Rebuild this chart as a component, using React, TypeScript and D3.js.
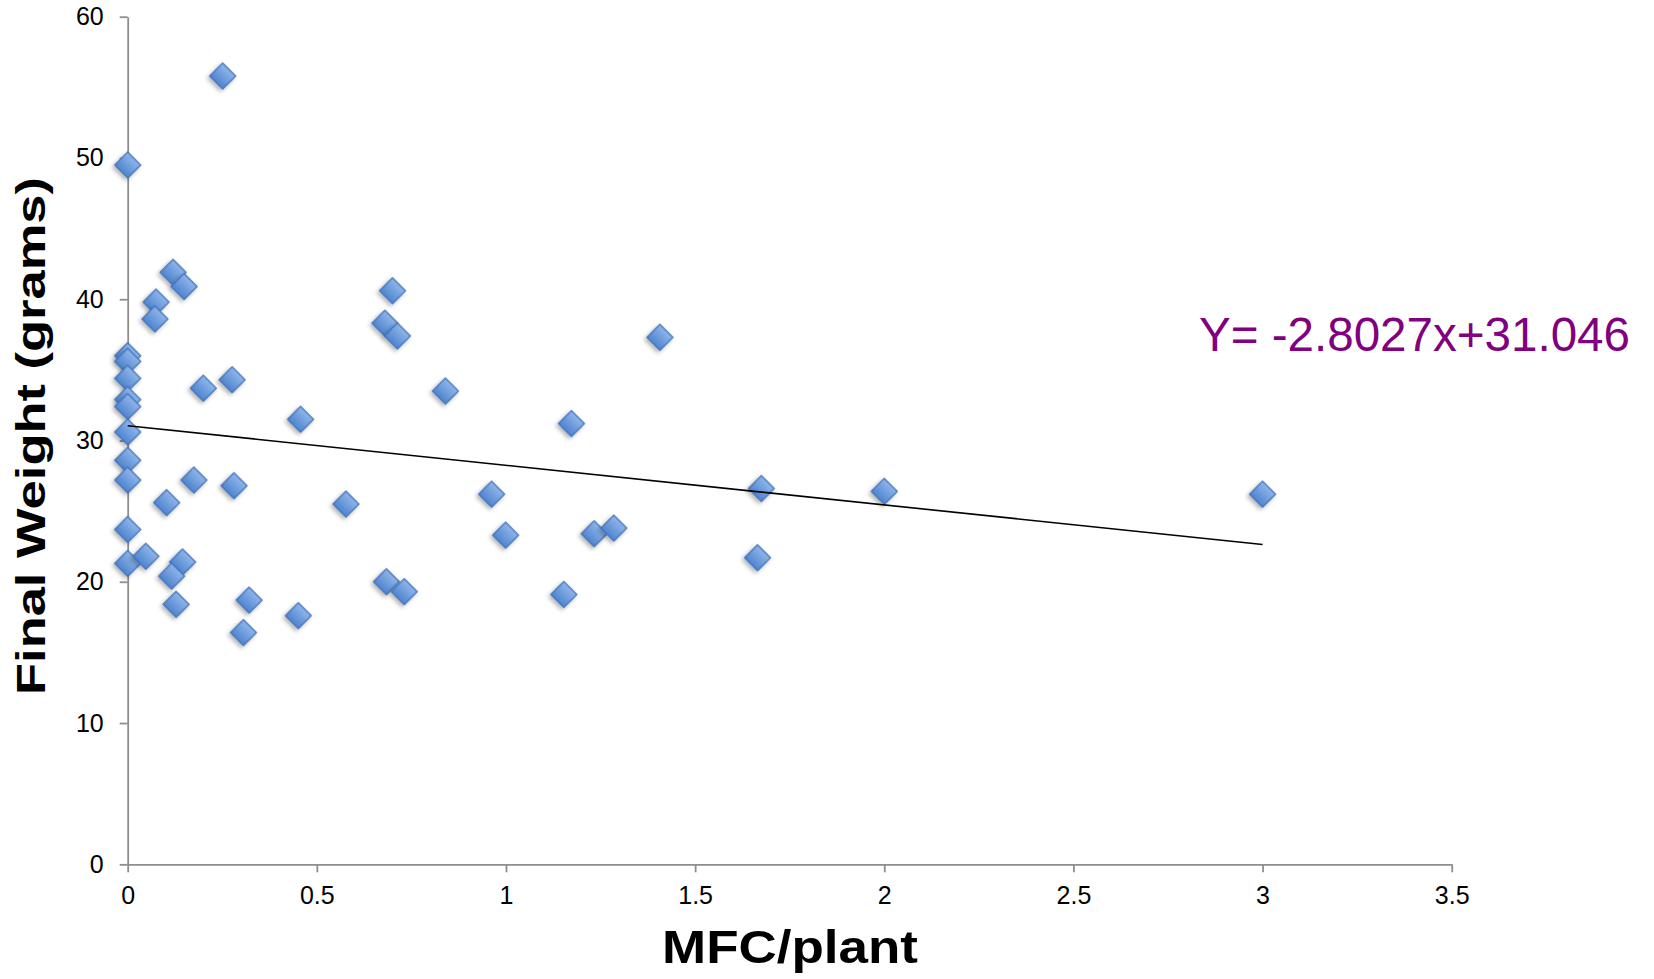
import React, { useEffect, useRef } from "react";
import * as d3 from "d3";

// MFC per plant vs final weight (grams)
const mfcValues = [
  0, 0, 0, 0, 0, 0, 0, 0, 0, 0, 0,
  0.251, 0.12, 0.149, 0.075, 0.072, 0.2, 0.276, 0.457, 0.175, 0.281,
  0.103, 0.577, 0.048, 0.145, 0.116, 0.128, 0.321, 0.306, 0.451,
  0.7, 0.68, 0.713, 1.407, 0.84, 1.173, 0.962, 1.675, 0.999, 1.233,
  1.285, 1.665, 0.684, 0.731, 1.153, 2.0, 3.0,
];
const weightValues = [
  49.5, 36.0, 35.6, 34.4, 32.9, 32.4, 30.6, 28.6, 27.2, 23.7, 21.3,
  55.8, 41.9, 40.9, 39.8, 38.6, 33.7, 34.3, 31.5, 27.2, 26.8,
  25.6, 25.5, 21.8, 21.4, 20.4, 18.4, 18.7, 16.4, 17.6,
  40.6, 38.3, 37.4, 37.3, 33.5, 31.2, 26.2, 26.6, 23.3, 23.4,
  23.8, 21.7, 20.0, 19.3, 19.1, 26.4, 26.2,
];
const xTicks = [0, 0.5, 1, 1.5, 2, 2.5, 3, 3.5];
const yTicks = [0, 10, 20, 30, 40, 50, 60];
const slope = -2.8027;
const intercept = 31.046;
const trendRange = [0, 3];

const width = 1654;
const height = 979;

export default function App() {
  const ref = useRef<SVGSVGElement>(null);

  useEffect(() => {
    const svg = d3.select(ref.current);
    svg.selectAll("*").remove();

    const x = d3.scaleLinear().domain([0, 3.5]).range([127.7, 1451.7]);
    const y = d3.scaleLinear().domain([0, 60]).range([864.3, 16.7]);

    const defs = svg.append("defs");
    const grad = defs
      .append("linearGradient")
      .attr("id", "dia")
      .attr("x1", 0).attr("y1", 0).attr("x2", 0).attr("y2", 1);
    grad.append("stop").attr("offset", "0%").attr("stop-color", "#8fb6ea");
    grad.append("stop").attr("offset", "100%").attr("stop-color", "#4f84cf");
    const filter = defs
      .append("filter")
      .attr("id", "shadow")
      .attr("x", "-50%").attr("y", "-50%")
      .attr("width", "200%").attr("height", "200%");
    filter
      .append("feDropShadow")
      .attr("dx", 0)
      .attr("dy", 3)
      .attr("stdDeviation", 2)
      .attr("flood-color", "#000")
      .attr("flood-opacity", 0.3);

    const axisColor = "#8e8e8e";
    const font = "Liberation Sans, Arial, sans-serif";

    // y axis
    const yAxis = svg
      .append("g")
      .attr("transform", `translate(${x(0)},0)`)
      .call(d3.axisLeft(y).tickValues(yTicks).tickSize(8).tickSizeOuter(0).tickPadding(16));
    yAxis.select(".domain").attr("stroke", axisColor).attr("stroke-width", 1.8);
    yAxis.selectAll(".tick line").attr("stroke", axisColor).attr("stroke-width", 1.8);
    yAxis
      .selectAll(".tick text")
      .attr("fill", "#000")
      .style("font-family", font)
      .style("font-size", "25px");

    // x axis
    const xAxis = svg
      .append("g")
      .attr("transform", `translate(0,${y(0)})`)
      .call(d3.axisBottom(x).tickValues(xTicks).tickSize(8).tickSizeOuter(0).tickPadding(14).tickFormat((d) => String(d)));
    xAxis.select(".domain").attr("stroke", axisColor).attr("stroke-width", 1.8);
    xAxis.selectAll(".tick line").attr("stroke", axisColor).attr("stroke-width", 1.8);
    xAxis
      .selectAll(".tick text")
      .attr("fill", "#000")
      .style("font-family", font)
      .style("font-size", "25px");

    // points
    const diamond = d3.symbol().type(d3.symbolSquare).size(26 * 26 / 2)();
    svg
      .append("g")
      .selectAll("path")
      .data(mfcValues)
      .enter()
      .append("path")
      .attr("d", diamond)
      .attr("transform", (d, i) => `translate(${x(d)},${y(weightValues[i])}) rotate(45)`)
      .attr("fill", "url(#dia)")
      .attr("stroke", "#3f70b8")
      .attr("stroke-width", 1.2)
      .attr("filter", "url(#shadow)");

    // trend line
    svg
      .append("line")
      .attr("x1", x(trendRange[0]))
      .attr("y1", y(intercept + slope * trendRange[0]))
      .attr("x2", x(trendRange[1]))
      .attr("y2", y(intercept + slope * trendRange[1]))
      .attr("stroke", "#000")
      .attr("stroke-width", 1.6);

    // equation
    svg
      .append("text")
      .attr("x", 1199)
      .attr("y", 351)
      .attr("textLength", 431)
      .attr("lengthAdjust", "spacingAndGlyphs")
      .attr("fill", "#800080")
      .style("font-family", font)
      .style("font-size", "48px")
      .text("Y= -2.8027x+31.046");

    // axis titles
    svg
      .append("text")
      .attr("x", 662)
      .attr("y", 963)
      .attr("textLength", 256)
      .attr("lengthAdjust", "spacingAndGlyphs")
      .style("font-family", font)
      .style("font-weight", "bold")
      .style("font-size", "46px")
      .text("MFC/plant");

    svg
      .append("text")
      .attr("transform", "translate(45,695) rotate(-90)")
      .attr("x", 0)
      .attr("y", 0)
      .attr("textLength", 518)
      .attr("lengthAdjust", "spacingAndGlyphs")
      .style("font-family", font)
      .style("font-weight", "bold")
      .style("font-size", "40px")
      .text("Final Weight (grams)");
  }, []);

  return (
    <svg
      ref={ref}
      width={width}
      height={height}
      style={{ position: "absolute", left: 0, top: 0, background: "#fff" }}
    />
  );
}
